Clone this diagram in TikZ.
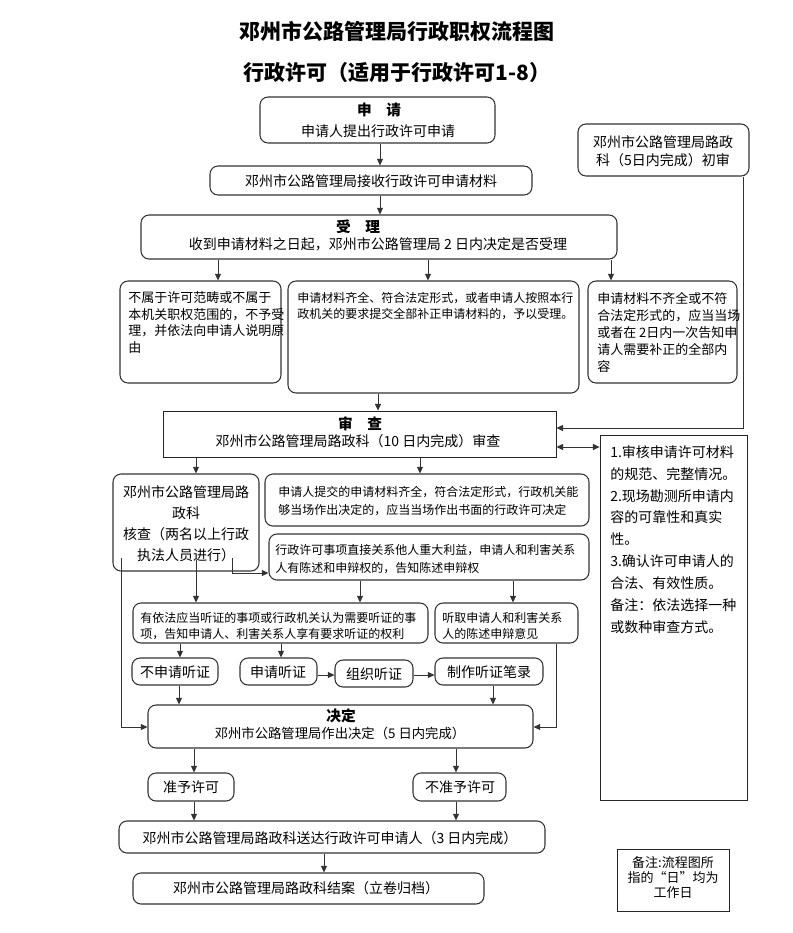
\documentclass[tikz,border=0pt]{standalone}
\usepackage{fontspec}
\setmainfont{Noto Sans CJK SC}
\usetikzlibrary{arrows.meta,fit,calc}
\newcommand\myfs[2]{\fontsize{#1pt}{#2pt}\selectfont}
\tikzset{
  rbox/.style={draw=black!80, line width=0.8pt, rounded corners=6pt, inner sep=0pt},
  sbox/.style={draw=black!85, line width=0.6pt, inner sep=0pt},
  txt/.style={inner sep=0pt, font=\myfs{10.5}{12.6}},
  headtxt/.style={inner sep=0pt, font=\bfseries\myfs{11}{13}},
  arr/.style={draw=black!80, line width=0.75pt, -{Triangle[length=5pt,width=4.5pt]}},
  darr/.style={draw=black!80, line width=0.75pt, {Triangle[length=5pt,width=4.5pt]}-{Triangle[length=5pt,width=4.5pt]}},
}
\begin{document}
\begin{tikzpicture}[x=0.75pt,y=-0.75pt]
\fill[white] (0,0) rectangle (793,933);
\useasboundingbox (0,0) rectangle (793,933);

% titles
\node[inner sep=0pt, font=\bfseries\myfs{15.75}{18}] (t1) at (397,31) {邓州市公路管理局行政职权流程图};
\node[inner sep=0pt, font=\bfseries\myfs{15.75}{18}] (t2) at (397,73) {行政许可（适用于行政许可1-8）};

% 申请
\node[rbox, fit={(260,97) (495,143)}] (sq) {};
\node[headtxt] (sqh) at (379,110) {申\quad 请};
\node[txt] (sqt1) at (378,131) {申请人提出行政许可申请};

% 接收
\node[rbox, fit={(210,166) (532,195)}] (js) {};
\node[txt] (jst) at (371,181) {邓州市公路管理局接收行政许可申请材料};

% 受理
\node[rbox, fit={(141,215) (617,259)}] (sl) {};
\node[headtxt] (slh) at (358,227) {受\quad 理};
\node[txt] (slt) at (378,244) {收到申请材料之日起，邓州市公路管理局 2 日内决定是否受理};

% three result boxes
\node[rbox, fit={(120,281) (281,383)}] (bl) {};
\node[txt, font=\myfs{9.75}{12.4}, align=left, anchor=west] (blt) at (128,322.75)
  {不属于许可范畴或不属于\\本机关职权范围的，不予受\\理，并依法向申请人说明原\\由};
\node[rbox, fit={(288,281) (579,393)}] (bm) {};
\node[txt, font=\myfs{9}{12.2}, align=left, anchor=west] (bmt) at (297,306)
  {申请材料齐全、符合法定形式，或者申请人按照本行\\政机关的要求提交全部补正申请材料的，予以受理。};
\node[rbox, fit={(588,281) (737,383)}] (br) {};
\node[txt, font=\myfs{9.75}{12.75}, align=left, anchor=west] (brt) at (597,332)
  {申请材料不齐全或不符\\合法定形式的，应当当场\\或者在 2日内一次告知申\\请人需要补正的全部内\\容};

% 初审
\node[rbox, fit={(578,124) (749,176)}] (cs) {};
\node[txt, align=center, font=\myfs{10.5}{13.5}] (cst) at (663,151) {邓州市公路管理局路政\\科（5日内完成）初审};

% 审查
\node[sbox, fit={(163,411) (556,457)}] (sc) {};
\node[headtxt] (sch) at (360,424) {审\quad 查};
\node[txt] (sct) at (358,441) {邓州市公路管理局路政科（10 日内完成）审查};

% right review box
\node[sbox, fit={(600,435) (747,800)}] (rq) {};
\node[txt, font=\myfs{10.5}{16.4}, align=left, anchor=west] (rqt) at (610,539.5)
  {1.审核申请许可材料\\的规范、完整情况。\\2.现场勘测所申请内\\容的可靠性和真实\\性。\\3.确认许可申请人的\\合法、有效性质。\\备注：依法选择一种\\或数种审查方式。};

% 核查
\node[rbox, fit={(113,474) (259,571)}] (hc) {};
\node[txt, align=center, font=\myfs{10.5}{15.75}] (hct) at (186,523.5)
  {邓州市公路管理局路\\政科\\核查（两名以上行政\\执法人员进行）};

% 当场决定
\node[rbox, fit={(265,474) (589,526)}] (dc) {};
\node[txt, font=\myfs{9}{13.5}, align=left, anchor=west] (dct) at (278,501)
  {申请人提交的申请材料齐全，符合法定形式，行政机关能\\够当场作出决定的，应当当场作出书面的行政许可决定};

% 告知陈述申辩权
\node[rbox, fit={(269,534) (589,580)}] (gz) {};
\node[txt, font=\myfs{9}{13.5}, align=left, anchor=west] (gzt) at (275,559)
  {行政许可事项直接关系他人重大利益，申请人和利害关系\\人有陈述和申辩权的，告知陈述申辩权};

% 有依法应当听证
\node[rbox, fit={(133,603) (428,643)}] (yz) {};
\node[txt, font=\myfs{9}{12}, align=left, anchor=west] (yzt) at (140,626)
  {有依法应当听证的事项或行政机关认为需要听证的事\\项，告知申请人、利害关系人享有要求听证的权利};

% 听取
\node[rbox, fit={(435,603) (578,643)}] (tq) {};
\node[txt, font=\myfs{9}{12}, align=left, anchor=west] (tqt) at (442,626)
  {听取申请人和利害关系\\人的陈述申辩意见};

% hearing row
\node[rbox, fit={(132,658) (218,685)}] (bsq) {};
\node[txt] (bsqt) at (175,672) {不申请听证};
\node[rbox, fit={(240,658) (317,685)}] (sqz) {};
\node[txt] (sqzt) at (278,672) {申请听证};
\node[rbox, fit={(335,660) (413,687)}] (zz) {};
\node[txt] (zzt) at (374,674) {组织听证};
\node[rbox, fit={(435,658) (543,685)}] (zl) {};
\node[txt] (zlt) at (489,672) {制作听证笔录};

% 决定
\node[rbox, fit={(148,705) (533,748)}] (jd) {};
\node[headtxt] (jdh) at (341,716) {决定};
\node[txt, font=\myfs{10}{12}] (jdt) at (340,733) {邓州市公路管理局作出决定（5 日内完成）};

% 准予 / 不准予
\node[rbox, fit={(148,773) (234,801)}] (zy) {};
\node[txt] (zyt) at (191,787) {准予许可};
\node[rbox, fit={(413,773) (506,801)}] (bzy) {};
\node[txt] (bzyt) at (460,787) {不准予许可};

% 送达, 结案
\node[rbox, fit={(119,821) (545,853)}] (sd) {};
\node[txt] (sdt) at (330,838) {邓州市公路管理局路政科送达行政许可申请人（3 日内完成）};
\node[rbox, fit={(133,873) (484,904)}] (ja) {};
\node[txt] (jat) at (306,888) {邓州市公路管理局路政科结案（立卷归档）};

% note
\node[sbox, fit={(617,849) (729,911)}] (bz) {};
\node[txt, align=center, font=\myfs{9.75}{11.25}] (bzt) at (673,878) {备注:流程图所\\指的“日”均为\\工作日};

% connectors
\draw[arr] (sq.south -| 380,0) -- (js.north -| 380,0);
\draw[arr] (js.south -| 380,0) -- (sl.north -| 380,0);
\draw[arr] (sl.south -| 218,0) -- (bl.north -| 218,0);
\draw[arr] (sl.south -| 428,0) -- (bm.north -| 428,0);
\draw[arr] (sl.south -| 611,0) -- (br.north -| 611,0);
\draw[arr] (cs.south -| 743,0) |- (sc.east |- 0,428);
\draw[arr] (bm.south -| 378,0) -- (sc.north -| 378,0);
\draw[darr] (sc.east |- 0,447) -- (rq.west |- 0,447);
\draw[arr] (sc.south -| 196,0) -- (hc.north -| 196,0);
\draw[arr] (sc.south -| 420,0) -- (dc.north -| 420,0);

\coordinate (hcA) at (232,558);
\coordinate (hcB) at (196,560);
\coordinate (hcC) at (121,558);
\draw[arr] (hcA) |- (gz.west |- 0,573);
\draw[arr] (hcB) -- (yz.north -| 196,0);
\draw[arr] (hcC) |- (jd.west |- 0,727);

\draw[arr] (gz.south -| 360,0) -- (yz.north -| 360,0);
\draw[arr] (gz.south -| 513,0) -- (tq.north -| 513,0);
\draw[arr] (yz.south -| 180,0) -- (bsq.north -| 180,0);
\draw[arr] (yz.south -| 281,0) -- (sqz.north -| 281,0);
\draw[arr] (sqz.east |- 0,675) -- (zz.west |- 0,675);
\draw[arr] (zz.east |- 0,675) -- (zl.west |- 0,675);
\draw[arr] (bsq.south -| 179,0) -- (jd.north -| 179,0);
\draw[arr] (zl.south -| 493,0) -- (jd.north -| 493,0);
\draw[arr] (tq.south -| 556,0) |- (jd.east |- 0,727);

\draw[arr] (jd.south -| 194,0) -- (zy.north -| 194,0);
\draw[arr] (jd.south -| 456,0) -- (bzy.north -| 456,0);
\draw[arr] (zy.south -| 194,0) -- (sd.north -| 194,0);
\draw[arr] (bzy.south -| 456,0) -- (sd.north -| 456,0);
\draw[arr] (sd.south -| 324,0) -- (ja.north -| 324,0);
\end{tikzpicture}
\end{document}
